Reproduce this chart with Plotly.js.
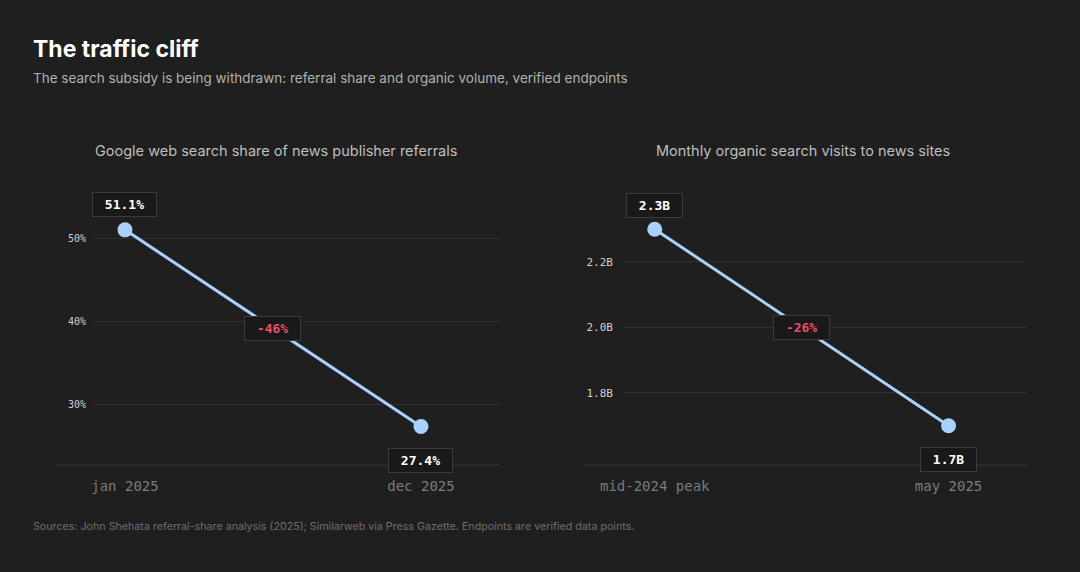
<!DOCTYPE html>
<html>
<head>
<meta charset="utf-8">
<script src="https://cdn.plot.ly/plotly-3.0.1.min.js"></script>
<style>
html,body{margin:0;padding:0;background:#1f1f1f;}
#chart{width:1080px;height:572px;}
</style>
</head>
<body>
<div id="chart"></div>
<script>
// ---- data ----
var shareDates = ["jan 2025", "dec 2025"];
var shareValues = [51.1, 27.4];
var shareLabels = ["51.1%", "27.4%"];
var shareChange = "-46%";
var shareTicks = [30, 40, 50];
var shareTickText = ["30%", "40%", "50%"];

var visitDates = ["mid-2024 peak", "may 2025"];
var visitValues = [2.3, 1.7];
var visitLabels = ["2.3B", "1.7B"];
var visitChange = "-26%";
var visitTicks = [1.8, 2.0, 2.2];
var visitTickText = ["1.8B", "2.0B", "2.2B"];

// ---- styling ----
var BG = "#1f1f1f";
var LINE = "#a9d1fb";
var RED = "#ee4d66";
var MONO = "DejaVu Sans Mono, monospace";
var SANS = "Inter, Roboto, sans-serif";
var W = 1080, H = 572;
function px(x){ return x / W; }
function py(y){ return 1 - y / H; }

function trace(xs, ys, xa, ya){
  return {
    x: xs, y: ys, xaxis: xa, yaxis: ya, type: "scatter", mode: "lines+markers",
    line: {color: LINE, width: 3},
    marker: {color: LINE, size: 15},
    hoverinfo: "skip", showlegend: false, cliponaxis: false
  };
}

var data = [
  trace(shareDates, shareValues, "x", "y"),
  trace(visitDates, visitValues, "x2", "y2")
];

function xaxis(domain, cats){
  return {
    domain: domain, type: "category", categoryarray: cats,
    range: [-0.108, 1.267], showgrid: false, zeroline: false, showline: false,
    ticks: "", ticklabelstandoff: 11,
    tickfont: {family: MONO, size: 14, color: "#7a7a7a"}, fixedrange: true
  };
}
function yaxis(domain, range, vals, text, size, standoff){
  return {
    domain: domain, range: range, tickvals: vals, ticktext: text,
    showgrid: true, gridcolor: "#303030", gridwidth: 1, zeroline: false, showline: false,
    ticks: "", ticklabelstandoff: standoff,
    tickfont: {family: MONO, size: size, color: "#cfcfcf"}, fixedrange: true
  };
}

var yDom = [py(465), py(185)];

function valueLabel(x, y, text, xref, yref, shift){
  return {
    x: x, y: y, xref: xref, yref: yref, text: "\u2002" + text + "\u2002", showarrow: false,
    yshift: shift, font: {family: MONO, size: 13, color: "#ffffff", weight: "bold"},
    bgcolor: "#191919", bordercolor: "#3a3a3a", borderwidth: 1, borderpad: 4
  };
}
function changeLabel(ys, text, xref, yref){
  return {
    x: 0.5, y: (ys[0] + ys[1]) / 2, xref: xref, yref: yref, text: "\u2002" + text + "\u2002",
    showarrow: false, font: {family: MONO, size: 13, color: RED, weight: "bold"},
    bgcolor: "#191919", bordercolor: "#3a3a3a", borderwidth: 1, borderpad: 4
  };
}
function paperText(x, y, text, size, color, anchor, weight){
  return {
    x: px(x), y: py(y), xref: "paper", yref: "paper", text: text, showarrow: false,
    xanchor: anchor, yanchor: "middle",
    font: {family: SANS, size: size, color: color, weight: weight || "normal"}
  };
}

var annotations = [
  paperText(31, 49, "The traffic cliff", 23, "#ffffff", "left", "bold"),
  paperText(31, 78, "The search subsidy is being withdrawn: referral share and organic volume, verified endpoints", 13.5, "#b0b0b0", "left"),
  paperText(276, 151, "Google web search share of news publisher referrals", 14.5, "#bdbdbd", "center"),
  paperText(803, 151, "Monthly organic search visits to news sites", 14.5, "#bdbdbd", "center"),
  paperText(31, 526, "Sources: John Shehata referral-share analysis (2025); Similarweb via Press Gazette. Endpoints are verified data points.", 10.7, "#6e6e6e", "left"),
  valueLabel(shareDates[0], shareValues[0], shareLabels[0], "x", "y", 25),
  valueLabel(shareDates[1], shareValues[1], shareLabels[1], "x", "y", -34),
  changeLabel(shareValues, shareChange, "x", "y"),
  valueLabel(visitDates[0], visitValues[0], visitLabels[0], "x2", "y2", 24),
  valueLabel(visitDates[1], visitValues[1], visitLabels[1], "x2", "y2", -34),
  changeLabel(visitValues, visitChange, "x2", "y2")
];

var shapes = [
  {type: "line", xref: "paper", yref: "paper", x0: px(55), x1: px(500), y0: py(465), y1: py(465), line: {color: "#363636", width: 1}, layer: "below"},
  {type: "line", xref: "paper", yref: "paper", x0: px(585), x1: px(1027), y0: py(465), y1: py(465), line: {color: "#363636", width: 1}, layer: "below"}
];

var layout = {
  width: W, height: H,
  paper_bgcolor: BG, plot_bgcolor: BG,
  margin: {l: 0, r: 0, t: 0, b: 0},
  showlegend: false,
  xaxis: xaxis([px(93), px(500)], shareDates),
  yaxis: yaxis(yDom, [22.77, 56.5], shareTicks, shareTickText, 10, 6),
  xaxis2: xaxis([px(623), px(1027)], visitDates),
  yaxis2: yaxis(yDom, [1.580, 2.435], visitTicks, visitTickText, 11, 9),
  annotations: annotations,
  shapes: shapes
};
layout.xaxis.anchor = "y";
layout.yaxis.anchor = "x";
layout.xaxis2.anchor = "y2";
layout.yaxis2.anchor = "x2";

Plotly.newPlot("chart", data, layout, {displayModeBar: false, staticPlot: true});
</script>
</body>
</html>
